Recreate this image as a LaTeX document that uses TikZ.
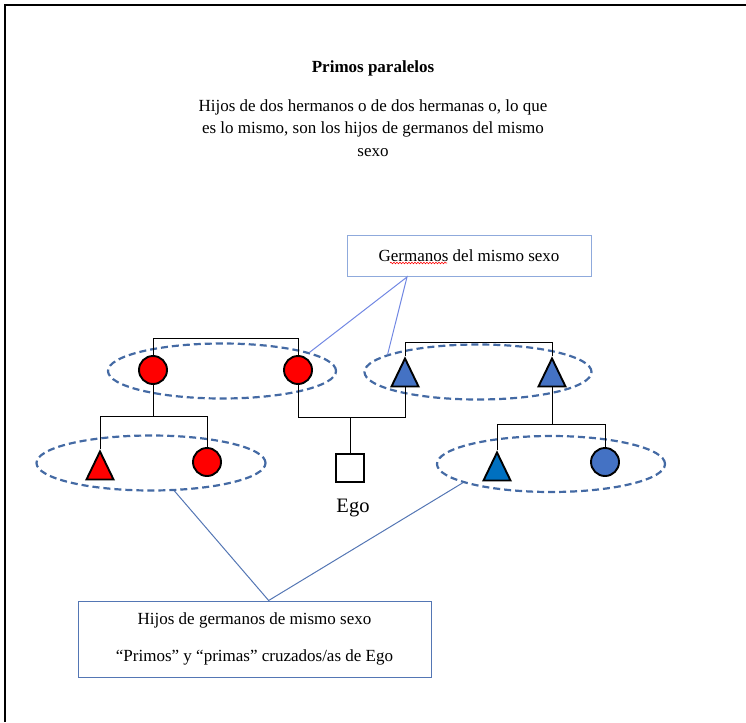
\documentclass[tikz,border=0pt]{standalone}
\usepackage{fontspec}
\setmainfont{Liberation Serif}
\usetikzlibrary{shapes.geometric, calc, decorations.pathmorphing}
\definecolor{femred}{RGB}{255,0,0}
\definecolor{malblue}{RGB}{68,114,196}
\definecolor{kidblue}{RGB}{0,112,192}
\definecolor{grpblue}{RGB}{68,106,164}
\definecolor{notelight}{RGB}{143,170,220}
\definecolor{notedark}{RGB}{84,118,180}
\tikzset{fem/.style={circle,draw=black,line width=1.9pt,fill=femred,minimum size=28,inner sep=0pt}}
\tikzset{mal/.style={isosceles triangle,isosceles triangle stretches,shape border rotate=90,draw=black,line width=1.9pt,fill=malblue,minimum width=27,minimum height=28,inner sep=0pt}}
\tikzset{ego/.style={rectangle,draw=black,line width=1.9pt,fill=white,minimum size=28,inner sep=0pt}}
\tikzset{grp/.style={ellipse,draw=grpblue,line width=2.2pt,dash pattern=on 7pt off 4pt,inner sep=0pt}}
\tikzset{kin/.style={draw=black,line width=1pt}}
\tikzset{notebox/.style={rectangle,line width=1pt,fill=white,inner sep=0pt}}
\tikzset{txt/.style={font=\fontsize{17}{22.5}\selectfont}}

\begin{document}
\begin{tikzpicture}[x=1pt,y=-1pt]
  \useasboundingbox (0,0) rectangle (746,722);
  \draw[line width=2.5pt] (5,722) -- (5,5) -- (746,5);

  % titulo
  \node[font=\bfseries\fontsize{17}{20}\selectfont] (titulo) at (373,68) {Primos paralelos};
  \node[txt,align=center] (defn) at (373,128) {Hijos de dos hermanos o de dos hermanas o, lo que\\ es lo mismo, son los hijos de germanos del mismo\\ sexo};

  % grupos de germanos
  \node[grp,minimum width=228,minimum height=55] (g1) at (222,371) {};
  \node[grp,minimum width=227,minimum height=55] (g2) at (478,372) {};
  \node[grp,minimum width=229,minimum height=55] (g3) at (151,463) {};
  \node[grp,minimum width=228,minimum height=56] (g4) at (551,464) {};

  % generacion de los padres
  \node[fem] (m1) at (153,370) {};
  \node[fem] (m2) at (298,370) {};
  \node[mal,anchor=apex] (h1) at (405,356) {};
  \node[mal,anchor=apex] (h2) at (552,356) {};

  % hijos
  \node[mal,fill=femred,anchor=apex] (c1) at (100,449) {};
  \node[fem] (c2) at (207,462) {};
  \node[ego] (ego) at (350,468) {};
  \node[mal,fill=kidblue,anchor=apex] (c3) at (497,450) {};
  \node[fem,fill=malblue] (c4) at (605,462) {};
  \node[font=\fontsize{20.5}{24}\selectfont] (egolbl) at (353,508) {Ego};

  % parentesco
  \draw[kin] (m1.north) -- ++(0,-17) -| (m2.north);
  \draw[kin] (h1.apex) -- ++(0,-14) -| (h2.apex);
  \draw[kin] (m2.south) -- ++(0,33) coordinate (mar) -| (h1.south);
  \draw[kin] (ego.north) -- (ego.north |- mar);
  \draw[kin] (m1.south) -- ++(0,32) coordinate (d1);
  \draw[kin] (c1.apex) |- (d1) -| (c2.north);
  \draw[kin] (h2.south) -- ++(0,37) coordinate (d2);
  \draw[kin] (c3.apex) |- (d2) -| (c4.north);

  % notas
  \node[notebox,draw=notelight,minimum width=244,minimum height=41,txt] (gbox) at (469,256) {Germanos del mismo sexo};
  \draw[red,line width=0.6pt,decorate,decoration={snake,amplitude=0.8pt,segment length=3pt}] (390,263) -- (447,263);
  \node[notebox,draw=notedark,minimum width=353,minimum height=76,align=center,font=\fontsize{17}{37}\selectfont] (hbox) at (254.5,639) {Hijos de germanos de mismo sexo\\ “Primos” y “primas” cruzados/as de Ego};

  \coordinate (gtip) at ($(gbox.south west)!0.247!(gbox.south east)$);
  \draw[notelight!80!blue,line width=1pt] (g1.12) -- (gtip) -- (g2.169);
  \coordinate (htip) at ($(hbox.north west)!0.54!(hbox.north east)$);
  \draw[notedark,line width=1pt] (g3.-50) -- (htip) -- (g4.192);
\end{tikzpicture}
\end{document}
